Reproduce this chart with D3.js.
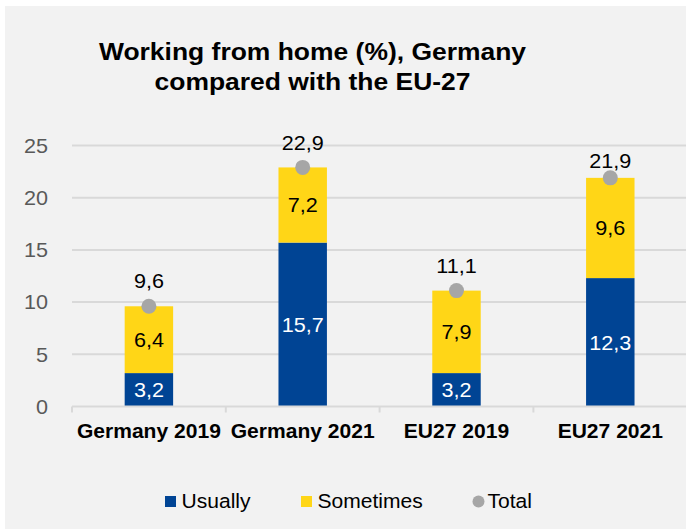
<!DOCTYPE html>
<html>
<head>
<meta charset="utf-8">
<script src="https://cdn.jsdelivr.net/npm/d3@7/dist/d3.min.js"></script>
<style>
  html, body { margin: 0; padding: 0; background: #ffffff; }
  svg { display: block; }
  text { font-family: Arial, "Liberation Sans", Helvetica, sans-serif; }
</style>
</head>
<body>
<svg id="chart" width="686" height="529"></svg>
<script>
// Working from home shares (%), stacked: usually + sometimes, with total marker
const categories = ["Germany 2019", "Germany 2021", "EU27 2019", "EU27 2021"];
const usually   = [3.2, 15.7, 3.2, 12.3];
const sometimes = [6.4, 7.2, 7.9, 9.6];
const total     = [9.6, 22.9, 11.1, 21.9];
const yTicks    = [0, 5, 10, 15, 20, 25];
const seriesNames = ["Usually", "Sometimes", "Total"];
const titleLines = ["Working from home (%), Germany", "compared with the EU-27"];

const W = 686, H = 529;
const colors = { usually: "#004494", sometimes: "#FFD617", total: "#A6A6A6" };
const stretch = 1.08; // slightly widened lettering
const totalLabelLift = [18, 17, 18, 10]; // gap (px) between total marker and its label baseline
const fmt = v => String(v).replace(".", ",");

const svg = d3.select("#chart");

// panel background
svg.append("rect").attr("x", 5).attr("y", 6).attr("width", W - 5).attr("height", H - 6)
  .attr("fill", "#F2F2F2");

// helper: text with horizontal stretch around its anchor
function label(x, y, str, opts) {
  const g = svg.append("g").attr("transform", `translate(${x},${y}) scale(${stretch},1)`);
  const t = g.append("text")
    .attr("text-anchor", opts.anchor || "middle")
    .attr("font-size", opts.size)
    .attr("font-weight", opts.weight || "normal")
    .attr("fill", opts.fill || "#000")
    .text(str);
  if (opts.baseline) t.attr("dominant-baseline", opts.baseline);
  return t;
}

// title
titleLines.forEach((line, i) => {
  label(312.5, 60 + i * 30, line, { size: 24.5, weight: "bold" });
});

// scales
const plotLeft = 72, step = 153.8;
const x = d3.scaleBand().domain(categories)
  .range([plotLeft, plotLeft + step * categories.length]).padding(0);
const y = d3.scaleLinear().domain([0, 25]).range([406.5, 145.5]);
const barW = x.bandwidth() * 0.315;

// gridlines and y tick labels
yTicks.forEach(v => {
  if (v > 0) {
    svg.append("line").attr("x1", plotLeft).attr("x2", W)
      .attr("y1", y(v)).attr("y2", y(v))
      .attr("stroke", "#D9D9D9").attr("stroke-width", 2);
  }
  label(48, y(v), String(v), { size: 20, anchor: "end", fill: "#595959", baseline: "central" });
});

// stacked bars
const stack = d3.stack().keys(["usually", "sometimes"])(
  categories.map((c, i) => ({ cat: c, usually: usually[i], sometimes: sometimes[i] }))
);
stack.forEach(layer => {
  svg.append("g").selectAll("rect").data(layer).join("rect")
    .attr("x", d => x(d.data.cat) + x.bandwidth() / 2 - barW / 2)
    .attr("width", barW)
    .attr("y", d => y(d[1]))
    .attr("height", d => y(d[0]) - y(d[1]))
    .attr("fill", colors[layer.key]);
});

// category axis
svg.append("line").attr("x1", plotLeft).attr("x2", W + 2)
  .attr("y1", y(0)).attr("y2", y(0))
  .attr("stroke", "#D9D9D9").attr("stroke-width", 2);
categories.forEach(c => {
  svg.append("line").attr("x1", x(c)).attr("x2", x(c))
    .attr("y1", y(0)).attr("y2", y(0) + 6)
    .attr("stroke", "#D9D9D9").attr("stroke-width", 2);
});

// segment value labels
categories.forEach((c, i) => {
  const cx = x(c) + x.bandwidth() / 2;
  label(cx, y(usually[i] / 2), fmt(usually[i]),
    { size: 20, fill: "#FFFFFF", baseline: "central" });
  label(cx, y(usually[i] + sometimes[i] / 2), fmt(sometimes[i]),
    { size: 20, fill: "#000000", baseline: "central" });
});

// total markers and labels
categories.forEach((c, i) => {
  const cx = x(c) + x.bandwidth() / 2;
  svg.append("circle").attr("cx", cx).attr("cy", y(total[i])).attr("r", 7.5)
    .attr("fill", colors.total);
  label(cx, y(total[i]) - totalLabelLift[i], fmt(total[i]), { size: 20, fill: "#000000" });
});

// category labels
categories.forEach(c => {
  label(x(c) + x.bandwidth() / 2, 438, c, { size: 19.5, weight: "bold" });
});

// legend
const legendY = 508.3;
const legendItems = [
  { name: seriesNames[0], key: "usually", x: 165, shape: "rect" },
  { name: seriesNames[1], key: "sometimes", x: 301, shape: "rect" },
  { name: seriesNames[2], key: "total", x: 472.5, shape: "circle" }
];
legendItems.forEach(it => {
  if (it.shape === "rect") {
    svg.append("rect").attr("x", it.x).attr("y", legendY - 12.3)
      .attr("width", 11).attr("height", 11).attr("fill", colors[it.key]);
  } else {
    svg.append("circle").attr("cx", it.x + 6).attr("cy", legendY - 6.8).attr("r", 6)
      .attr("fill", colors[it.key]);
  }
  label(it.x + (it.shape === "rect" ? 16.5 : 15), legendY, it.name,
    { size: 19.5, anchor: "start", fill: "#000000" });
});
</script>
</body>
</html>
